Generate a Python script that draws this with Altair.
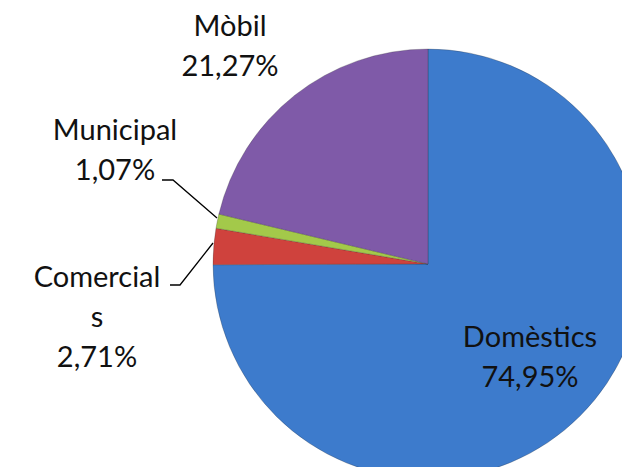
import altair as alt
import pandas as pd

categories = ["Domèstics", "Comercials", "Municipal", "Mòbil"]
values = [74.95, 2.71, 1.07, 21.27]
value_labels = ["74,95%", "2,71%", "1,07%", "21,27%"]
colors = ["#3d7bcc", "#cf423d", "#a3c94a", "#7f5aa8"]

# label layout (text lines and baseline positions in plot pixels)
label_lines = [["Domèstics", "74,95%"], ["Comercial", "s", "2,71%"], ["Municipal", "1,07%"], ["Mòbil", "21,27%"]]
label_x = [522, 89, 107, 222]
label_y = [339, 279, 132, 28]
line_gap = 40

# leader lines (plot pixels)
leader_id = ["c", "c", "c", "m", "m", "m"]
leader_x = [162, 172, 205, 154, 165, 209]
leader_y = [277, 277, 235, 172, 172, 210]

cx, cy, r = 420, 256, 215

pie_df = pd.DataFrame({"cat": categories, "val": values, "order": list(range(len(values)))})

pie = alt.Chart(pie_df).mark_arc(outerRadius=r, stroke="#2a2a2a", strokeWidth=0.5, strokeOpacity=0.5).encode(
    theta=alt.Theta("val:Q", stack=True),
    order=alt.Order("order:Q"),
    color=alt.Color("cat:N", scale=alt.Scale(domain=categories, range=colors), legend=None),
    x=alt.value(cx),
    y=alt.value(cy),
)

rows = []
for lines, lx, ly in zip(label_lines, label_x, label_y):
    for i, t in enumerate(lines):
        rows.append({"t": t, "x": lx, "y": ly + i * line_gap})
text_df = pd.DataFrame(rows)

text = alt.Chart(text_df).mark_text(
    font="Lato", fontSize=29, color="#111111", align="center", baseline="alphabetic"
).encode(
    x=alt.X("x:Q", scale=None),
    y=alt.Y("y:Q", scale=None),
    text="t:N",
)

lead_df = pd.DataFrame({"id": leader_id, "x": leader_x, "y": leader_y, "o": list(range(len(leader_x)))})
leaders = alt.Chart(lead_df).mark_line(color="#000000", strokeWidth=1.3).encode(
    x=alt.X("x:Q", scale=None),
    y=alt.Y("y:Q", scale=None),
    detail="id:N",
    order="o:Q",
)

chart = alt.layer(pie, leaders, text).properties(
    width=614, height=459, padding=0, autosize="none", background="white"
).configure_view(stroke=None)

chart.save("out.html", embed_options={"renderer": "svg", "actions": False})
